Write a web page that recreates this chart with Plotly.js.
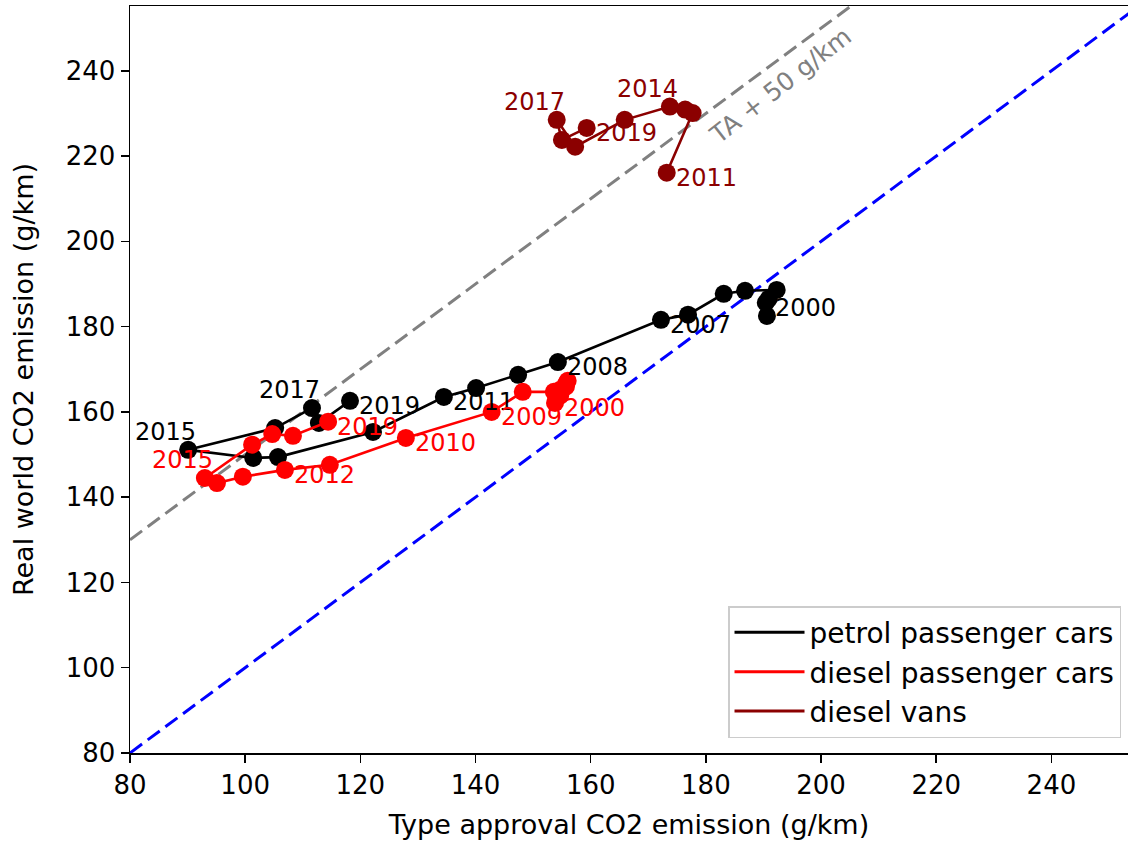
<!DOCTYPE html>
<html>
<head>
<meta charset="utf-8">
<script src="https://cdn.plot.ly/plotly-3.0.1.min.js"></script>
<style>
html,body{margin:0;padding:0;background:#fff;}
#chart{width:1128px;height:842px;}
</style>
</head>
<body>
<div id="chart"></div>
<script>
// ---- data ----
const carYears = [2000,2001,2002,2003,2004,2005,2006,2007,2008,2009,2010,2011,2012,2013,2014,2015,2016,2017,2018,2019];
const petrolTA = [190.4,190.6,190.9,192.3,186.8,183.1,176.9,172.2,154.3,147.4,140.1,134.5,122.2,105.7,101.4,90.1,105.2,111.6,112.8,118.2];
const petrolRW = [185.6,182.5,186.5,188.6,188.4,187.7,182.8,181.6,171.7,168.7,165.6,163.5,155.3,149.4,149.2,151.1,156.2,160.9,157.4,162.6];
const dieselTA = [153.8,154.0,154.7,155.7,156.0,155.7,154.7,153.6,148.2,142.8,127.9,114.7,106.9,99.6,95.1,93.0,101.2,104.7,108.3,114.4];
const dieselRW = [162.1,163.8,165.2,166.6,167.3,165.9,163.8,164.7,164.7,160.0,153.9,147.6,146.4,144.8,143.3,144.5,152.3,154.8,154.4,157.7];
const vanYears = [2011,2012,2013,2014,2015,2016,2017,2018,2019];
const vanTA = [173.2,177.7,176.4,173.75,165.9,157.3,154.1,155.0,159.3];
const vanRW = [216.1,230.1,230.9,231.6,228.5,222.2,228.5,223.8,226.6];

const petrolLabels = [2000,2007,2008,2011,2015,2017,2019];
const dieselLabels = [2000,2009,2010,2012,2015,2019];
const vanLabels = [2011,2014,2017,2019];
const upperLeftPetrol = [2015,2017];
const upperLeftDiesel = [2015];
const upperLeftVan = [2014,2017];

const seriesNames = ['petrol passenger cars','diesel passenger cars','diesel vans'];
const refLineX = [80, 260];
const taOffset = 50;
const refLabel = 'TA + 50 g/km';

// ---- styles ----
const colors = ['#000000','#ff0000','#8b0000'];
const FONT = 'DejaVu Sans, sans-serif';

const traces = [];
// reference lines
traces.push({x: refLineX, y: refLineX.map(v => v + taOffset), mode:'lines',
  line:{color:'#808080', width:3, dash:'15px,7px'}, showlegend:false, hoverinfo:'skip'});
traces.push({x: refLineX, y: refLineX.slice(), mode:'lines',
  line:{color:'#0000ff', width:3, dash:'15px,7px'}, showlegend:false, hoverinfo:'skip'});

const series = [
  {x: petrolTA, y: petrolRW, yrs: carYears, labels: petrolLabels, ul: upperLeftPetrol},
  {x: dieselTA, y: dieselRW, yrs: carYears, labels: dieselLabels, ul: upperLeftDiesel},
  {x: vanTA, y: vanRW, yrs: vanYears, labels: vanLabels, ul: upperLeftVan}
];

series.forEach((s, i) => {
  traces.push({x: s.x, y: s.y, mode:'lines+markers', name: seriesNames[i],
    line:{color: colors[i], width:2.6}, marker:{color: colors[i], size:18},
    showlegend:false});
});
// legend entries (line only, like the reference)
series.forEach((s, i) => {
  traces.push({x:[null], y:[null], mode:'lines', name: seriesNames[i],
    line:{color: colors[i], width:3}, showlegend:true});
});

const annotations = [];
series.forEach((s, i) => {
  s.labels.forEach(yr => {
    const k = s.yrs.indexOf(yr);
    const ul = s.ul.indexOf(yr) >= 0;
    annotations.push({
      x: s.x[k], y: s.y[k], xref:'x', yref:'y', text: String(yr), showarrow:false,
      font:{family: FONT, size:24, color: colors[i]},
      xanchor: ul ? 'right' : 'left', yanchor:'middle',
      xshift: ul ? 10 : 7, yshift: ul ? 18 : -5
    });
  });
});
annotations.push({
  x: 193, y: 236.5, xref:'x', yref:'y', text: refLabel, showarrow:false,
  textangle: -38, font:{family: FONT, size:25, color:'#808080'},
  xanchor:'center', yanchor:'middle'
});

const axisCommon = {
  showgrid:false, zeroline:false, showline:true, linecolor:'#000', linewidth:1.5,
  mirror:true, ticks:'outside', ticklen:8, tickwidth:1.5, tickcolor:'#000',
  tickfont:{family: FONT, size:26, color:'#000'}, dtick:20, tick0:0
};

const layout = {
  width:1128, height:842,
  margin:{l:130, r:0, t:6, b:89, pad:0},
  paper_bgcolor:'#fff', plot_bgcolor:'#fff',
  font:{family: FONT, color:'#000'},
  xaxis: Object.assign({}, axisCommon, {range:[80, 253.3],
    title:{text:'Type approval CO2 emission (g/km)', font:{family: FONT, size:27, color:'#000'}, standoff:16}}),
  yaxis: Object.assign({}, axisCommon, {range:[80, 255.2],
    title:{text:'Real world CO2 emission (g/km)', font:{family: FONT, size:27, color:'#000'}, standoff:24}}),
  showlegend:true,
  legend:{x:0.993, y:0.02, xanchor:'right', yanchor:'bottom',
    bgcolor:'rgba(255,255,255,0.85)', bordercolor:'#cccccc', borderwidth:1.5,
    font:{family: FONT, size:28, color:'#000'}, itemwidth:70, tracegroupgap:0},
  annotations: annotations
};

Plotly.newPlot('chart', traces, layout, {displayModeBar:false, staticPlot:true});
</script>
</body>
</html>
